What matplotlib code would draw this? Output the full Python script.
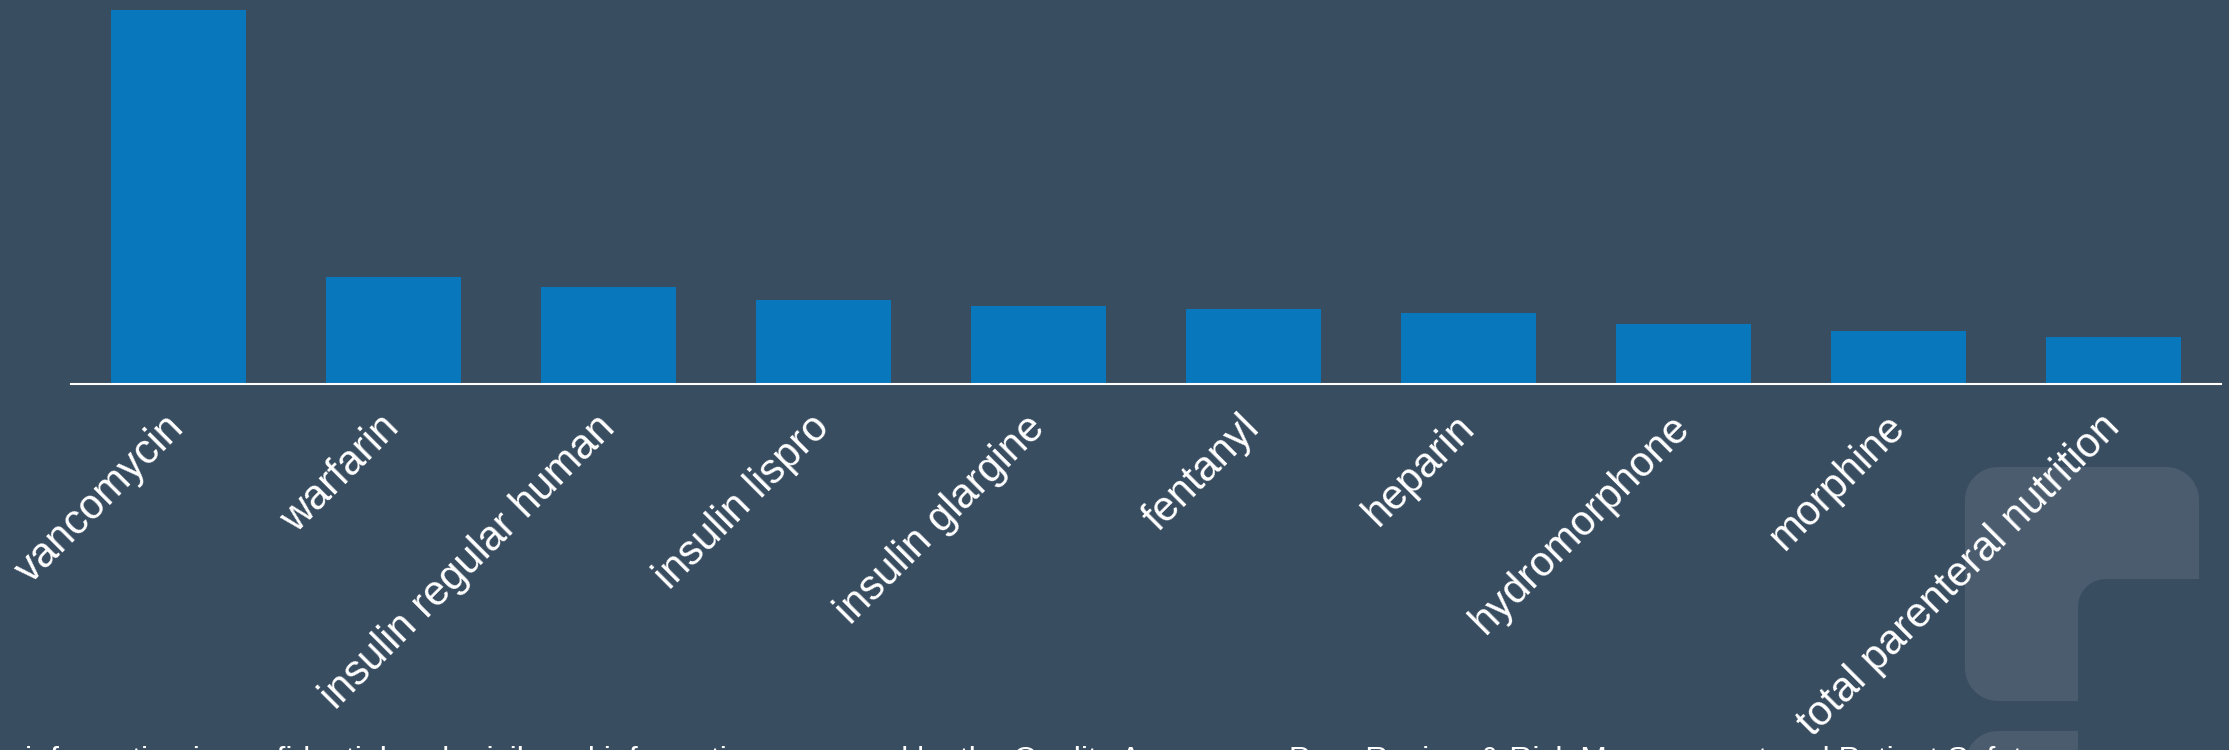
import numpy as np
import matplotlib
matplotlib.use("Agg")
import matplotlib.pyplot as plt
from matplotlib.patches import Polygon

plt.rcParams['font.family'] = ['Liberation Sans', 'DejaVu Sans']

# ---- data ----
drugs = ["vancomycin", "warfarin", "insulin regular human", "insulin lispro",
         "insulin glargine", "fentanyl", "heparin", "hydromorphone",
         "morphine", "total parenteral nutrition"]
counts = [374, 107, 97, 84, 78, 75, 71, 60, 53, 47]

footer = ("information is confidential and privileged information, prepared "
          "by the Quality Assurance, Peer Review & Risk Management and Patient Safety "
          "programs and shall not be disclosed or used outside. Copyright")

BG = "#394D61"
BAR = "#0877BC"
LOGO = "#4A5C6E"
W, H = 2229, 750

fig = plt.figure(figsize=(W / 100, H / 100), dpi=100, facecolor=BG)
ax = fig.add_axes([71 / W, 1 - 384 / H, 2150 / W, 374 / H])
ax.set_facecolor(BG)

x = np.arange(len(drugs))
ax.bar(x, counts, width=0.63, color=BAR, zorder=2)
ax.set_xlim(-0.5, len(drugs) - 0.5)
ax.set_ylim(0, max(counts))

for s in ["top", "left", "right"]:
    ax.spines[s].set_visible(False)
ax.spines["bottom"].set_color("white")
ax.spines["bottom"].set_linewidth(1.5)
ax.spines["bottom"].set_zorder(3)
ax.set_yticks([])
ax.set_xticks(x)
ax.set_xticklabels(drugs, rotation=45, ha="right", va="center",
                   rotation_mode="anchor", fontsize=30, color="white")
ax.tick_params(axis="x", length=0, pad=27)


# ---- logo shapes in the bottom-right corner (pixel coords, y down) ----
def rounded(points, radii, n=16):
    pts = np.array(points, dtype=float)
    out = []
    for i, p in enumerate(pts):
        r = radii[i]
        if r == 0:
            out.append(p)
            continue
        a = pts[i - 1]
        b = pts[(i + 1) % len(pts)]
        u1 = (a - p) / np.linalg.norm(a - p)
        u2 = (b - p) / np.linalg.norm(b - p)
        c = p + (u1 + u2) * r
        t1 = p + u1 * r
        t2 = p + u2 * r
        ang1 = np.arctan2(*(t1 - c)[::-1])
        ang2 = np.arctan2(*(t2 - c)[::-1])
        d = (ang2 - ang1 + np.pi) % (2 * np.pi) - np.pi
        for t in np.linspace(0, 1, n):
            ang = ang1 + d * t
            out.append(c + r * np.array([np.cos(ang), np.sin(ang)]))
    out = np.array(out)
    return np.column_stack([out[:, 0] / W, 1 - out[:, 1] / H])


upper = rounded([(1965, 467), (2199, 467), (2199, 579), (2078, 579),
                 (2078, 701), (1965, 701)], [33, 33, 0, 28, 0, 33])
lower = rounded([(1965, 731), (2078, 731), (2078, 780), (1965, 780)],
                [33, 0, 0, 0])
for shape in (upper, lower):
    fig.add_artist(Polygon(shape, closed=True, transform=fig.transFigure,
                           facecolor=LOGO, edgecolor="none", zorder=-1))

fig.text(25 / W, 1 - 769 / H, footer, color="white", fontsize=23,
         ha="left", va="baseline")

fig.savefig("out.png", dpi=100, facecolor=BG)
